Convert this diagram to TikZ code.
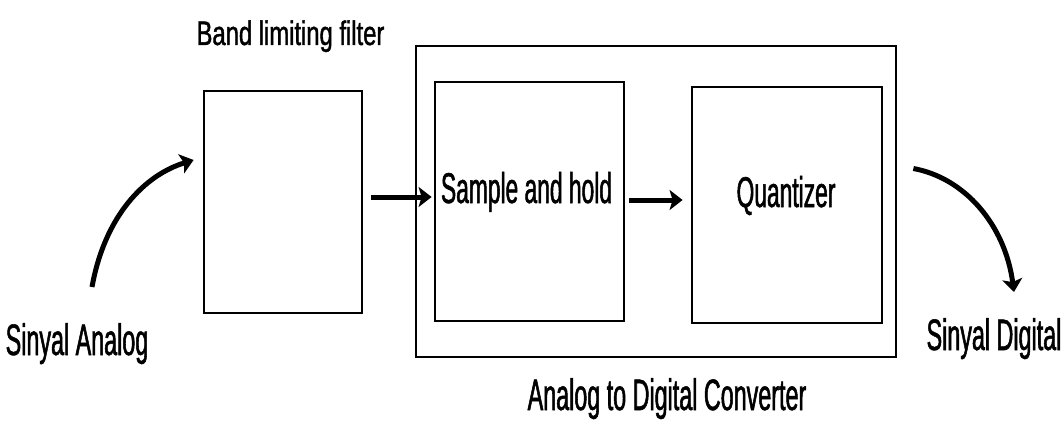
\documentclass[tikz,border=0pt]{standalone}
\usepackage{fontspec}
\setmainfont{Liberation Sans}[FakeStretch=0.53,FakeBold=1.2]
\newfontfamily\widehand{Liberation Sans}[FakeStretch=0.7,FakeBold=1.2]
\usetikzlibrary{arrows.meta}

\begin{document}
\begin{tikzpicture}[x=0.5pt,y=-0.5pt,>={Stealth[length=6.5pt,width=10pt,inset=1.5pt]},
  blok/.style={draw,line width=1.4pt,inner sep=0pt},
  alir/.style={->,line width=2.5pt},
  teks/.style={anchor=base,inner sep=0pt,font=\fontsize{22}{26}\selectfont},
  teksblok/.style={teks,font=\fontsize{21.5}{25}\selectfont},
  teksband/.style={teks,font=\widehand\fontsize{17}{20}\selectfont}]
  \useasboundingbox (0,0) rectangle (1062,423);
  \node[blok,minimum width=240pt,minimum height=155.5pt] (adc) at (656,201.5) {};
  \node[blok,minimum width=79pt,minimum height=111pt] (filter) at (283,202) {};
  \node[blok,minimum width=94.5pt,minimum height=119.5pt] (snh) at (529.5,201.5) {};
  \node[blok,minimum width=95pt,minimum height=118pt] (quant) at (787,205) {};
  \node[teksband] (bandLbl) at (290.5,45) {Band limiting filter};
  \node[teksblok] (snhLbl) at (526.5,203) {Sample and hold};
  \node[teksblok] (quantLbl) at (786,207) {Quantizer};
  \node[teks] (anaLbl) at (77,355) {Sinyal Analog};
  \node[teks] (digLbl) at (994,350) {Sinyal Digital};
  \node[teks] (adcLbl) at (667,410) {Analog to Digital Converter};
  \coordinate (anaStart) at (92,287);
  \coordinate (digEnd) at (1014,292);
  \draw[alir] (anaStart) .. controls (105,215) and (145,175) .. ([shift={(-9,-42)}]filter.west);
  \draw[alir] ([shift={(8,-5)}]filter.east) -- ([shift={(-2,-4.5)}]snh.west);
  \draw[alir] ([shift={(4,-1.5)}]snh.east) -- ([shift={(-8,-5)}]quant.west);
  \draw[alir] ([shift={(16,-33)}]adc.east) .. controls (965,178) and (1005,225) .. (digEnd);
\end{tikzpicture}
\end{document}
